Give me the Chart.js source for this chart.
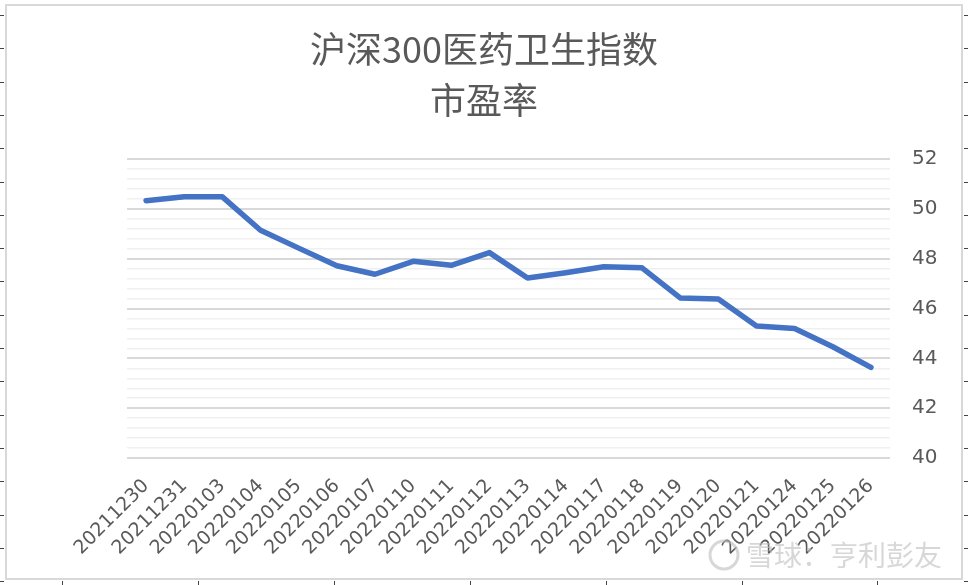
<!DOCTYPE html>
<html>
<head>
<meta charset="utf-8">
<script src="https://cdn.jsdelivr.net/npm/chart.js@4/dist/chart.umd.min.js"></script>
<style>
  body { margin: 0; background: #fff; }
  #wrap { width: 968px; height: 585px; }
</style>
</head>
<body>
<div id="wrap"><canvas id="peChart" width="968" height="585"></canvas></div>
<script>
// dates on the x axis
const dates = ['20211230', '20211231', '20220103', '20220104', '20220105', '20220106', '20220107',
  '20220110', '20220111', '20220112', '20220113', '20220114', '20220117', '20220118',
  '20220119', '20220120', '20220121', '20220124', '20220125', '20220126'];

// PE values
const pe = [50.33, 50.49, 50.49, 49.15, 48.43, 47.72, 47.38, 47.9, 47.74, 48.25,
  47.23, 47.44, 47.68, 47.64, 46.43, 46.39, 45.3, 45.2, 44.47, 43.64];

const titleLines = ['沪深300医药卫生指数', '市盈率'];
const yMin = 40, yMax = 52, yMajor = 2, yMinor = 0.4;

const textGrey = '#595959';
const labelFont = { family: '"DejaVu Sans", sans-serif', size: 19 };

function isMajor(v) {
  return Math.abs(v / yMajor - Math.round(v / yMajor)) < 1e-6;
}

//frame, sheet marks and watermark
const decor = {
  id: 'decor',
  beforeDraw(chart) {
    const c = chart.ctx;
    c.save();
    c.fillStyle = '#fff';
    c.fillRect(0, 0, chart.width, chart.height);
    c.restore();
  },
  afterDraw(chart) {
    const c = chart.ctx;
    c.save();
    c.strokeStyle = '#d9d9d9';
    c.lineWidth = 2;
    c.strokeRect(6, 5, 956, 574);
    c.strokeStyle = '#444';
    c.lineWidth = 1;
    for (let y = 15; y < 585; y += 33.3) {
      c.beginPath(); c.moveTo(0, Math.round(y) + 0.5); c.lineTo(4, Math.round(y) + 0.5); c.stroke();
      c.beginPath(); c.moveTo(964, Math.round(y) + 0.5); c.lineTo(968, Math.round(y) + 0.5); c.stroke();
    }
    for (let x = 62; x < 968; x += 135.9) {
      c.beginPath(); c.moveTo(Math.round(x) + 0.5, 581); c.lineTo(Math.round(x) + 0.5, 585); c.stroke();
    }
    // watermark
    c.globalAlpha = 0.6;
    c.strokeStyle = '#bdbdbd';
    c.lineWidth = 3;
    c.beginPath(); c.arc(724, 555, 14, 0, Math.PI * 2); c.stroke();
    c.fillStyle = '#bdbdbd';
    c.font = '28px "Noto Sans CJK SC"';
    c.textBaseline = 'middle';
    c.fillText('雪球：亨利彭友', 746, 555);
    c.restore();
  }
};

const ctx = document.getElementById('peChart');

new Chart(ctx, {
  type: 'line',
  data: {
    labels: dates,
    datasets: [{
      label: '市盈率',
      data: pe,
      yAxisID: 'y',
      borderColor: '#4472c4',
      borderWidth: 5.5,
      pointRadius: 0,
      tension: 0,
      borderCapStyle: 'round',
      borderJoinStyle: 'round'
    }]
  },
  options: {
    responsive: false,
    animation: false,
    layout: { padding: 0 },
    plugins: {
      legend: { display: false },
      tooltip: { enabled: false },
      title: {
        display: true,
        text: titleLines,
        color: textGrey,
        font: { family: '"Noto Sans CJK SC", sans-serif', size: 36, weight: 'normal', lineHeight: 1.42 },
        padding: { top: 24, bottom: 33 }
      }
    },
    scales: {
      x: {
        offset: true,
        grid: { display: false, drawTicks: false },
        border: { display: false },
        ticks: {
          color: textGrey,
          font: labelFont,
          minRotation: 45,
          maxRotation: 45,
          autoSkip: false,
          padding: 17
        },
        afterFit(s) { s.height = 127; }
      },
      // empty spacer so the plot starts where the sheet's plot starts
      spacer: {
        type: 'linear',
        position: 'left',
        display: true,
        grid: { display: false, drawTicks: false },
        border: { display: false },
        ticks: { display: false },
        afterFit(s) { s.width = 127; }
      },
      y: {
        position: 'right',
        min: yMin,
        max: yMax,
        grid: {
          drawTicks: false,
          color: c => isMajor(c.tick.value) ? '#d9d9d9' : '#f0f0f0',
          lineWidth: c => isMajor(c.tick.value) ? 2 : 1.5
        },
        border: { display: false },
        ticks: {
          autoSkip: false,
          color: textGrey,
          font: { family: '"DejaVu Sans", sans-serif', size: 20 },
          padding: 22,
          callback: v => isMajor(v) ? Math.round(v) : ''
        },
        // minor gridlines every 0.4, labels only on the 2s
        afterBuildTicks(s) {
          const t = [];
          for (let v = yMin; v <= yMax + 1e-6; v += yMinor) t.push({ value: Math.round(v * 10) / 10 });
          s.ticks = t;
        },
        afterFit(s) { s.width = 78; }
      }
    }
  },
  plugins: [decor]
});
</script>
</body>
</html>
